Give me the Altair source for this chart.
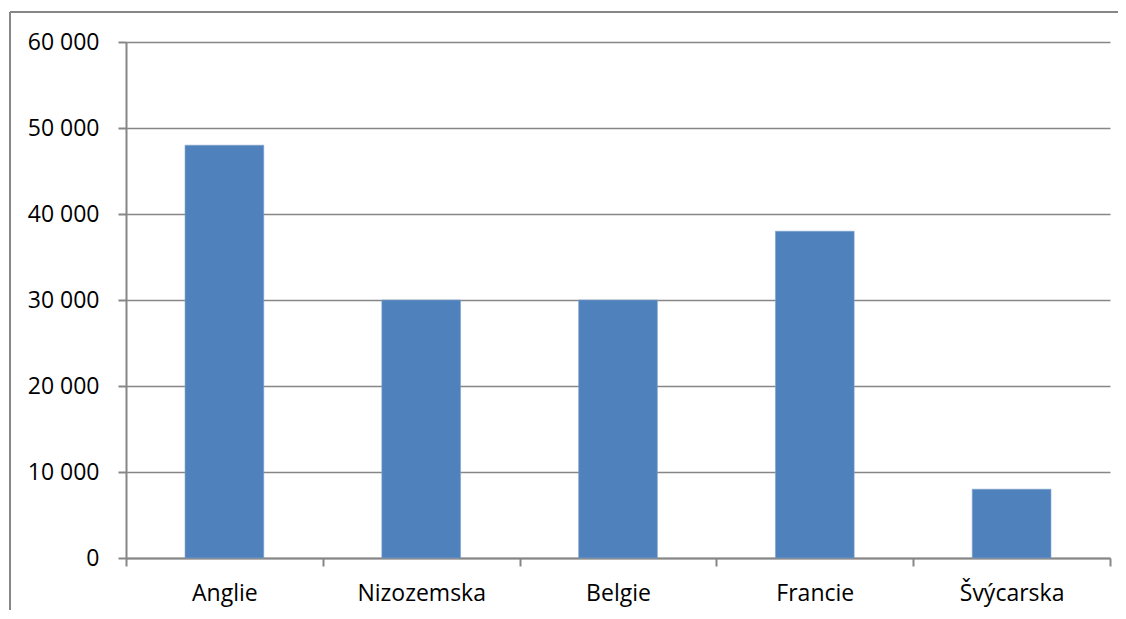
import altair as alt
import pandas as pd

countries = ["Anglie", "Nizozemska", "Belgie", "Francie", "Švýcarska"]
values = [48000, 30000, 30000, 38000, 8000]
y_ticks = [0, 10000, 20000, 30000, 40000, 50000, 60000]

df = pd.DataFrame({"country": countries, "value": values})

GRAY = "#868686"
FONT = "Open Sans"

bars = alt.Chart(df).mark_bar(
    color="#4F81BD", width=alt.RelativeBandSize(0.4), stroke="#7FA2CF", strokeWidth=0.6
).encode(
    x=alt.X("country:N", sort=countries, title=None,
            scale=alt.Scale(paddingInner=0, paddingOuter=0),
            axis=alt.Axis(tickBand="extent", labelAngle=0, labelFont=FONT, labelFontSize=23,
                          labelColor="#000000", tickColor=GRAY, tickSize=8, tickWidth=2,
                          domainColor=GRAY, domainWidth=2, labelPadding=16, grid=False)),
    y=alt.Y("value:Q", title=None,
            scale=alt.Scale(domain=[0, 60000], nice=False),
            axis=alt.Axis(values=y_ticks,
                          labelExpr="replace(format(datum.value, ','), ',', ' ')",
                          labelFont=FONT, labelFontSize=23, labelColor="#000000",
                          tickColor=GRAY, tickSize=8, tickWidth=2, domainColor=GRAY, domainWidth=2,
                          gridColor=GRAY, gridWidth=1.6, labelPadding=19)),
)

border_left = alt.Chart(df).mark_rule(color=GRAY, strokeWidth=2, clip=False).encode(
    x=alt.value(-116), y=alt.value(-30), y2=alt.value(580)
)
border_top = alt.Chart(df).mark_rule(color=GRAY, strokeWidth=2, clip=False).encode(
    x=alt.value(-116), x2=alt.value(1000), y=alt.value(-30)
)

chart = alt.layer(bars, border_left, border_top).properties(
    width=984, height=516,
    autosize=alt.AutoSizeParams(type="none"),
    padding={"left": 118, "top": 34, "right": 8, "bottom": 52},
).configure_view(stroke=None)

chart.save("out.html", embed_options={"renderer": "svg", "actions": False})
